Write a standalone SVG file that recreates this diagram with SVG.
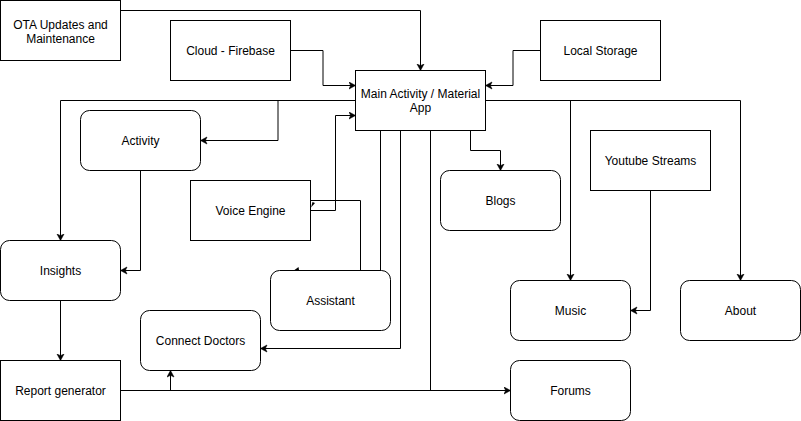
<svg xmlns="http://www.w3.org/2000/svg" width="801" height="421" viewBox="0 0 801 421">
<style>
.box{fill:#fff;stroke:#000;stroke-width:1}
.lbl{font-family:"Liberation Sans",Arial,sans-serif;font-size:12px;fill:#000;text-anchor:middle}
.edge{fill:none;stroke:#000;stroke-width:1}
.arr{marker-end:url(#ah)}
</style>
<defs>
<marker id="ah" markerUnits="userSpaceOnUse" markerWidth="10" markerHeight="10" viewBox="0 0 10 10" refX="7" refY="4" orient="auto">
<path d="M0.5,0.5 L7,4 L0.5,7.5 L2.2,4 Z" fill="#000" stroke="#000" stroke-width="0.6"/>
</marker>
</defs>
<rect width="801" height="421" fill="#fff"/>
<g transform="translate(0.5,0.5)">
<g id="connectors">
<path class="edge arr" d="M120,10 H420 V70"/>
<path class="edge arr" d="M290,50 H322.5 V85 H355"/>
<path class="edge arr" d="M540,50 H512.5 V85 H485"/>
<path class="edge arr" d="M355,100 H277.5 V140 H200"/>
<path class="edge arr" d="M355,100 H60 V240"/>
<path class="edge arr" d="M140,170 V270 H120"/>
<path class="edge arr" d="M485,100 H570 V280"/>
<path class="edge arr" d="M485,100 H740 V280"/>
<path class="edge arr" d="M470,130 V150 H500 V170"/>
<path class="edge arr" d="M650,190 V310 H630"/>
<path class="edge arr" d="M60,300 V360"/>
<path class="edge arr" d="M120,390 H170 V370"/>
<path class="edge arr" d="M120,390 H510"/>
<path class="edge" d="M430,130 V390"/>
<path class="edge arr" d="M400,130 V348 H260"/>
<path class="edge" d="M380,130 V270"/>
<path class="edge" d="M360,270 V200 H310"/>
<path class="edge arr" d="M310,210 H335 V115 H355"/>
<path d="M310.5,207 L312,201.5 L314.5,202.5 Z" fill="#000"/>
<path d="M294,269.5 L298,266.5 L298.5,269.5 Z" fill="#000"/>
</g>
<g id="ota"><rect class="box" x="0" y="0" width="120" height="60"/><text class="lbl" x="60" y="28">OTA Updates and</text><text class="lbl" x="60" y="42">Maintenance</text></g>
<g id="cloud"><rect class="box" x="170" y="20" width="120" height="60"/><text class="lbl" x="230" y="54">Cloud - Firebase</text></g>
<g id="main"><rect class="box" x="355" y="70" width="130" height="60"/><text class="lbl" x="420" y="97">Main Activity / Material</text><text class="lbl" x="420" y="111">App</text></g>
<g id="local"><rect class="box" x="540" y="20" width="120" height="60"/><text class="lbl" x="600" y="54">Local Storage</text></g>
<g id="activity"><rect class="box" x="80" y="110" width="120" height="60" rx="9" ry="9"/><text class="lbl" x="140" y="144">Activity</text></g>
<g id="voice"><rect class="box" x="190" y="180" width="120" height="60"/><text class="lbl" x="250" y="214">Voice Engine</text></g>
<g id="blogs"><rect class="box" x="440" y="170" width="120" height="60" rx="9" ry="9"/><text class="lbl" x="500" y="204">Blogs</text></g>
<g id="youtube"><rect class="box" x="590" y="130" width="120" height="60"/><text class="lbl" x="650" y="164">Youtube Streams</text></g>
<g id="insights"><rect class="box" x="0" y="240" width="120" height="60" rx="9" ry="9"/><text class="lbl" x="60" y="274">Insights</text></g>
<g id="assistant"><rect class="box" x="270" y="270" width="120" height="60" rx="9" ry="9"/><text class="lbl" x="330" y="304">Assistant</text></g>
<g id="music"><rect class="box" x="510" y="280" width="120" height="60" rx="9" ry="9"/><text class="lbl" x="570" y="314">Music</text></g>
<g id="about"><rect class="box" x="680" y="280" width="120" height="60" rx="9" ry="9"/><text class="lbl" x="740" y="314">About</text></g>
<g id="doctors"><rect class="box" x="140" y="310" width="120" height="60" rx="9" ry="9"/><text class="lbl" x="200" y="344">Connect Doctors</text></g>
<g id="report"><rect class="box" x="0" y="360" width="120" height="60"/><text class="lbl" x="60" y="394">Report generator</text></g>
<g id="forums"><rect class="box" x="510" y="360" width="120" height="60" rx="9" ry="9"/><text class="lbl" x="570" y="394">Forums</text></g>
</g>
</svg>
